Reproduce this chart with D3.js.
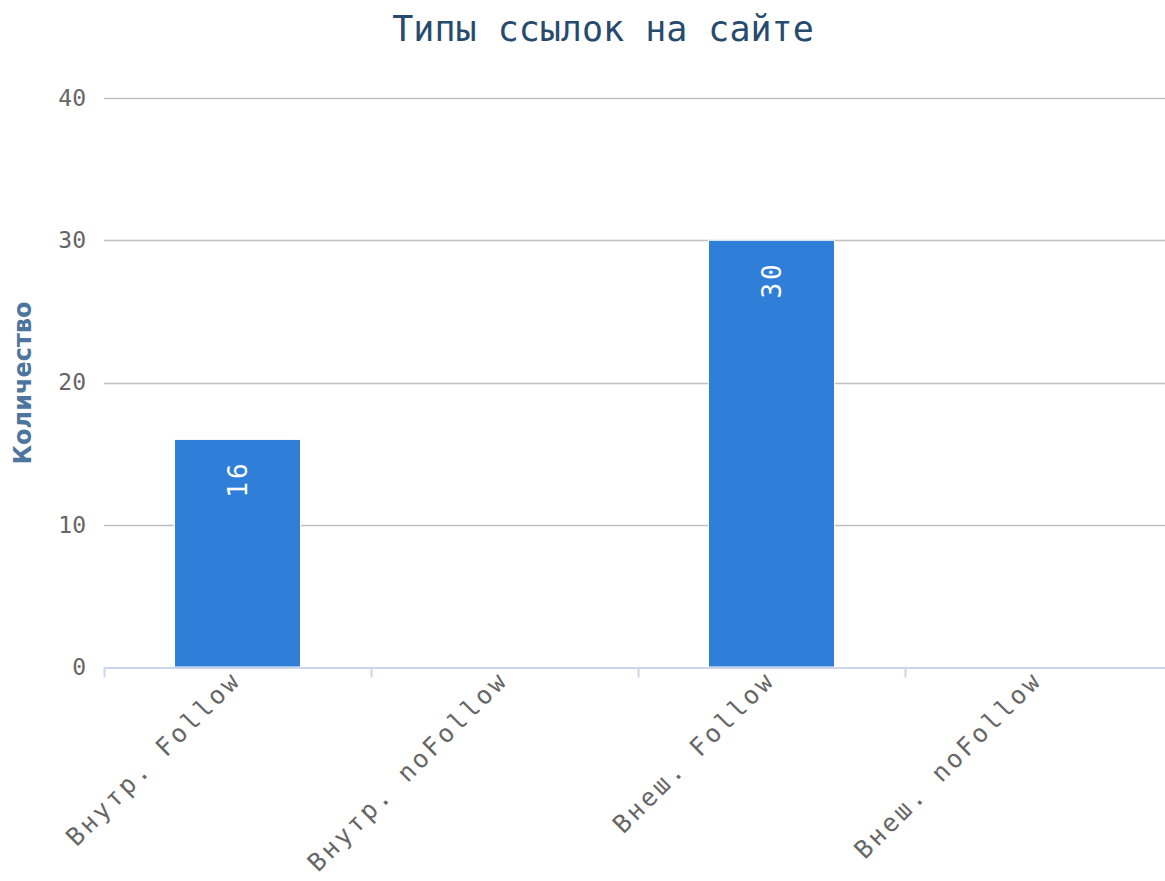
<!DOCTYPE html>
<html>
<head>
<meta charset="utf-8">
<script src="https://cdn.jsdelivr.net/npm/d3@7"></script>
<style>
  body { margin: 0; background: #fff; }
  svg { display: block; }
</style>
</head>
<body>
<svg id="chart"></svg>
<script>
const categories = ["Внутр. Follow", "Внутр. noFollow", "Внеш. Follow", "Внеш. noFollow"];
const values = [16, 0, 30, 0];
const yTicks = [0, 10, 20, 30, 40];

const w = 1165, h = 881;
// plot runs a little past the right edge, as in the original
const m = {left: 104, right: -7, top: 98, bottom: 214};
const mono = "'DejaVu Sans Mono', monospace";

const svg = d3.select("#chart")
    .attr("width", w)
    .attr("height", h)
    .style("font-family", mono);

const x = d3.scaleBand()
    .domain(categories)
    .range([m.left, w - m.right])
    .padding(0);

const y = d3.scaleLinear()
    .domain([0, 40])
    .range([h - m.bottom, m.top]);

// grid lines
svg.append("g")
    .selectAll("line")
    .data(yTicks.filter(t => t > 0))
    .enter()
    .append("line")
    .attr("x1", m.left)
    .attr("x2", w)
    .attr("y1", d => Math.round(y(d)) + 0.5)
    .attr("y2", d => Math.round(y(d)) + 0.5)
    .attr("stroke", "#c0c0c0")
    .attr("stroke-width", 1.5);

// y labels
const yAxis = d3.axisLeft(y).tickValues(yTicks).tickSize(0).tickPadding(18);
const gy = svg.append("g")
    .attr("transform", `translate(${m.left},0)`)
    .call(yAxis);
gy.select(".domain").remove();
gy.selectAll("text")
    .attr("fill", "#666")
    .style("font-size", "23px")
    .style("font-family", mono);

// bars
const barW = x.bandwidth() * 0.472;
svg.append("g")
    .selectAll("rect")
    .data(values)
    .enter()
    .append("rect")
    .attr("x", (d, i) => x(categories[i]) + x.bandwidth() / 2 - barW / 2)
    .attr("y", d => y(d))
    .attr("width", barW)
    .attr("height", d => y(0) - y(d))
    .attr("fill", "#2f7ed8")
    .attr("stroke", "#fff")
    .attr("stroke-width", 1)
    .style("display", d => d > 0 ? null : "none");

// data labels
svg.append("g")
    .selectAll("text")
    .data(values.map((v, i) => ({v, c: categories[i]})).filter(d => d.v > 0))
    .enter()
    .append("text")
    .attr("transform", d => {
        const cx = x(d.c) + x.bandwidth() / 2;
        return `translate(${cx + 9},${y(d.v) + 21}) rotate(-90)`;
    })
    .attr("text-anchor", "end")
    .attr("fill", "#fff")
    .style("font-size", "26px")
    .style("letter-spacing", "3px")
    .text(d => d.v);

// x axis
const xAxis = d3.axisBottom(x).tickSize(0).tickPadding(0);
const gx = svg.append("g")
    .attr("transform", `translate(0,${Math.round(y(0)) + 0.5})`)
    .call(xAxis);
gx.select(".domain").attr("stroke", "#ccd6eb").attr("stroke-width", 2);
gx.selectAll(".tick text")
    .attr("fill", "#666")
    .style("font-size", "25px")
    .style("letter-spacing", "3px")
    .style("font-family", mono)
    .attr("text-anchor", "end")
    .attr("dy", null)
    .attr("y", 0)
    .attr("transform", "translate(5,14) rotate(-45)");

// category boundary ticks
gx.append("g")
    .selectAll("line")
    .data(categories)
    .enter()
    .append("line")
    .attr("x1", d => Math.round(x(d)) + 0.5)
    .attr("x2", d => Math.round(x(d)) + 0.5)
    .attr("y1", 0)
    .attr("y2", 10)
    .attr("stroke", "#ccd6eb")
    .attr("stroke-width", 2);

// title
svg.append("text")
    .attr("x", 603)
    .attr("y", 41)
    .attr("text-anchor", "middle")
    .attr("fill", "#274b6d")
    .style("font-size", "35px")
    .text("Типы ссылок на сайте");

// y axis title
svg.append("text")
    .attr("transform", `translate(31,${383}) rotate(-90)`)
    .attr("text-anchor", "middle")
    .attr("fill", "#4d759e")
    .style("font-family", "'DejaVu Sans', sans-serif")
    .style("font-weight", "bold")
    .style("font-size", "24px")
    .text("Количество");
</script>
</body>
</html>
